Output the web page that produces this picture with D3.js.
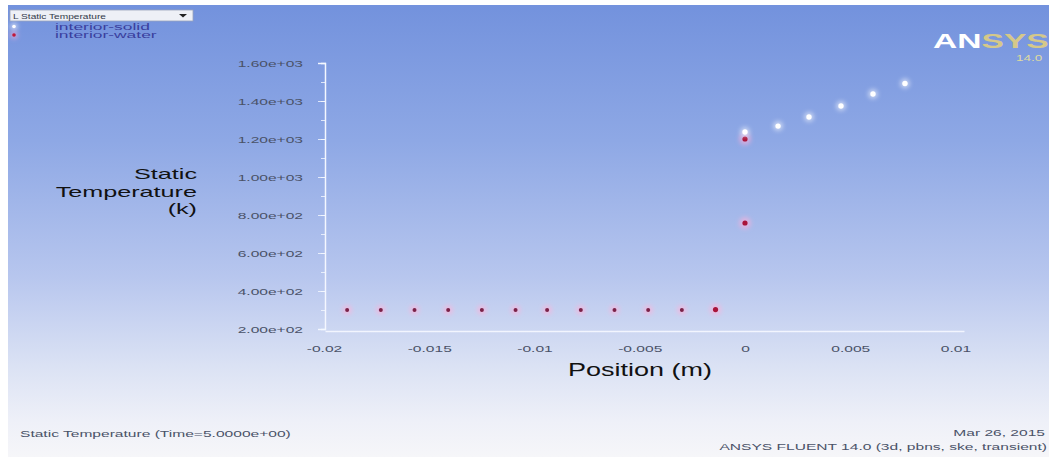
<!DOCTYPE html>
<html>
<head>
<meta charset="utf-8">
<script src="https://cdn.jsdelivr.net/npm/d3@7"></script>
<style>
  html, body { margin: 0; padding: 0; background: #ffffff; }
  svg { display: block; font-family: "Liberation Sans", Arial, sans-serif; }
</style>
</head>
<body>
<svg id="chart" width="1049" height="457"></svg>
<script>
// Static temperature along the probe line, two zones
const waterX = [-0.0189, -0.0173, -0.0157, -0.0141, -0.0125, -0.0109, -0.0094, -0.0078, -0.0062, -0.0046, -0.0030, -0.0014, 0, 0];
const waterT = [300, 300, 300, 300, 300, 300, 300, 300, 300, 300, 300, 302, 758, 1200];
const solidX = [0, 0.00157, 0.00304, 0.00456, 0.00608, 0.0076];
const solidT = [1237, 1268, 1316, 1374, 1437, 1492];

const yTickValues = [200, 400, 600, 800, 1000, 1200, 1400, 1600];
const xTickValues = [-0.02, -0.015, -0.01, -0.005, 0, 0.005, 0.01];
const seriesNames = ["interior-solid", "interior-water"];

const svg = d3.select("#chart");
const W = 1049, H = 457;
const SX = 1.64; // horizontal stretch of the viewer's text

// background panel with vertical gradient
const defs = svg.append("defs");
const grad = defs.append("linearGradient").attr("id", "bg").attr("x1", 0).attr("y1", 0).attr("x2", 0).attr("y2", 1);
[[0, "#7392dd"], [0.3, "#8ea8e5"], [0.6, "#b7c6ee"], [0.8, "#dbe2f4"], [0.92, "#eef0f8"], [1, "#f6f6f9"]]
  .forEach(([o, c]) => grad.append("stop").attr("offset", o).attr("stop-color", c));
const glow = defs.append("filter").attr("id", "glow").attr("x", "-100%").attr("y", "-100%").attr("width", "300%").attr("height", "300%");
glow.append("feGaussianBlur").attr("stdDeviation", 2.2);

svg.append("rect").attr("x", 0).attr("y", 0).attr("width", W).attr("height", H).attr("fill", "#ffffff");
svg.append("rect").attr("x", 8).attr("y", 5).attr("width", W - 8).attr("height", H - 5).attr("fill", "url(#bg)");

// scales
const x = d3.scaleLinear().domain([-0.02, 0.01]).range([324, 955.5]);
const y = d3.scaleLinear().domain([200, 1600]).range([329, 63]);

const fmtExp = v => {
  const [m, e] = v.toExponential(2).split("e");
  return m + "e" + e[0] + e.slice(1).padStart(2, "0");
};

// y axis: minor ticks then labelled major ticks
const gy = svg.append("g").attr("transform", "translate(325,0)");
gy.call(d3.axisLeft(y).tickValues(d3.range(200, 1601, 100)).tickSize(4).tickFormat(""));
const gyMajor = svg.append("g").attr("transform", "translate(325,0)");
gyMajor.call(d3.axisLeft(y).tickValues(yTickValues).tickSize(7).tickFormat(fmtExp));
[gy, gyMajor].forEach(g => {
  g.select(".domain").attr("stroke", "#f4f7ff").attr("stroke-width", 1.3).attr("stroke-opacity", 0.9);
  g.selectAll(".tick line").attr("stroke", "#f4f7ff").attr("stroke-opacity", 0.8);
});
gyMajor.selectAll(".tick text")
  .attr("x", 0).attr("dy", "0.35em")
  .attr("transform", `translate(-22,0) scale(${SX},1)`)
  .attr("text-anchor", "end")
  .attr("fill", "#4a5268").attr("font-size", 9.5);

// x axis
const gx = svg.append("g").attr("transform", "translate(0,331)");
gx.call(d3.axisBottom(d3.scaleLinear().domain([-0.02, 0.0104]).range([325, 964])).tickValues([]).tickSize(0));
gx.select(".domain").attr("stroke", "#f6f8ff").attr("stroke-width", 1.5).attr("stroke-opacity", 0.9);
const gxl = svg.append("g").attr("transform", "translate(0,331)");
gxl.call(d3.axisBottom(x).tickValues(xTickValues).tickSize(0).tickFormat(d => String(d)));
gxl.select(".domain").remove();
gxl.selectAll(".tick text")
  .attr("y", 0).attr("dy", 0)
  .attr("transform", `translate(0,20.5) scale(${SX},1)`)
  .attr("fill", "#4a5268").attr("font-size", 9.5);

// axis titles
const titleY = svg.append("g").attr("fill", "#111").attr("font-size", 15).attr("text-anchor", "end");
[["Static", 179], ["Temperature", 196.5], ["(k)", 214]].forEach(([t, by]) => {
  titleY.append("text").attr("transform", `translate(197,${by}) scale(1.68,1)`).text(t);
});
svg.append("text").attr("transform", "translate(640,376) scale(1.5,1)")
  .attr("text-anchor", "middle").attr("fill", "#111").attr("font-size", 18).text("Position (m)");

// data points
const water = waterX.map((v, i) => ({ x: v, t: waterT[i], big: i >= waterX.length - 3 }));
const solid = solidX.map((v, i) => ({ x: v, t: solidT[i] }));

const gw = svg.append("g");
gw.selectAll("circle.halo").data(water).join("circle").attr("class", "halo")
  .attr("cx", d => x(d.x)).attr("cy", d => y(d.t)).attr("r", d => d.big ? 6 : 5)
  .attr("fill", "#ffb0d8").attr("fill-opacity", 0.6).attr("filter", "url(#glow)");
gw.selectAll("circle.dot").data(water).join("circle").attr("class", "dot")
  .attr("cx", d => x(d.x)).attr("cy", d => y(d.t)).attr("r", d => d.big ? 2.6 : 2)
  .attr("fill", d => d.big ? "#a8143a" : "#7a2248");

const gs = svg.append("g");
gs.selectAll("circle.halo").data(solid).join("circle").attr("class", "halo")
  .attr("cx", d => x(d.x)).attr("cy", d => y(d.t)).attr("r", 5)
  .attr("fill", "#ffffff").attr("fill-opacity", 0.5).attr("filter", "url(#glow)");
gs.selectAll("circle.dot").data(solid).join("circle").attr("class", "dot")
  .attr("cx", d => x(d.x)).attr("cy", d => y(d.t)).attr("r", 2.7)
  .attr("fill", "#ffffff");

// legend header box
const lg = svg.append("g");
lg.append("rect").attr("x", 10).attr("y", 10).attr("width", 183).attr("height", 11)
  .attr("fill", "#eef0f6").attr("stroke", "#9aa3bb").attr("stroke-width", 0.8);
lg.append("text").attr("transform", "translate(13,18.5) scale(1.45,1)")
  .attr("font-size", 7).attr("fill", "#333a4a").text("L Static Temperature");
lg.append("path").attr("d", "M179,14 L187,14 L183,17.5 Z").attr("fill", "#222");
// legend entries
const legColors = ["#ffffff", "#c0183a"];
seriesNames.forEach((name, i) => {
  const cy = 26.5 + i * 8.5;
  lg.append("circle").attr("cx", 14).attr("cy", cy).attr("r", 4).attr("fill", i ? "#ffb0d8" : "#ffffff")
    .attr("fill-opacity", 0.5).attr("filter", "url(#glow)");
  lg.append("circle").attr("cx", 14).attr("cy", cy).attr("r", 1.8).attr("fill", legColors[i]);
  lg.append("text").attr("transform", `translate(55,${cy + 3}) scale(2.1,1)`)
    .attr("font-size", 8.3).attr("fill", "#3a3f9e").text(name);
});

// product logo
const logo = svg.append("text").attr("transform", "translate(933,48) scale(1.6,1)")
  .attr("font-size", 21).attr("font-weight", "bold");
logo.append("tspan").attr("fill", "#ffffff").text("AN");
logo.append("tspan").attr("fill", "#e6d27a").attr("fill-opacity", 0.85).text("SYS");
svg.append("text").attr("transform", "translate(1016,61) scale(1.5,1)")
  .attr("font-size", 9).attr("fill", "#dedaa0").text("14.0");

// footer
svg.append("text").attr("transform", `translate(20,437) scale(${SX},1)`)
  .attr("font-size", 9.5).attr("fill", "#4a5268").text("Static Temperature  (Time=5.0000e+00)");
const foot = svg.append("g").attr("text-anchor", "end").attr("font-size", 9.5).attr("fill", "#4a5268");
foot.append("text").attr("transform", `translate(1045,436) scale(${SX},1)`).text("Mar 26, 2015");
foot.append("text").attr("transform", `translate(1047,450) scale(${SX},1)`).text("ANSYS FLUENT 14.0 (3d, pbns, ske, transient)");
</script>
</body>
</html>
